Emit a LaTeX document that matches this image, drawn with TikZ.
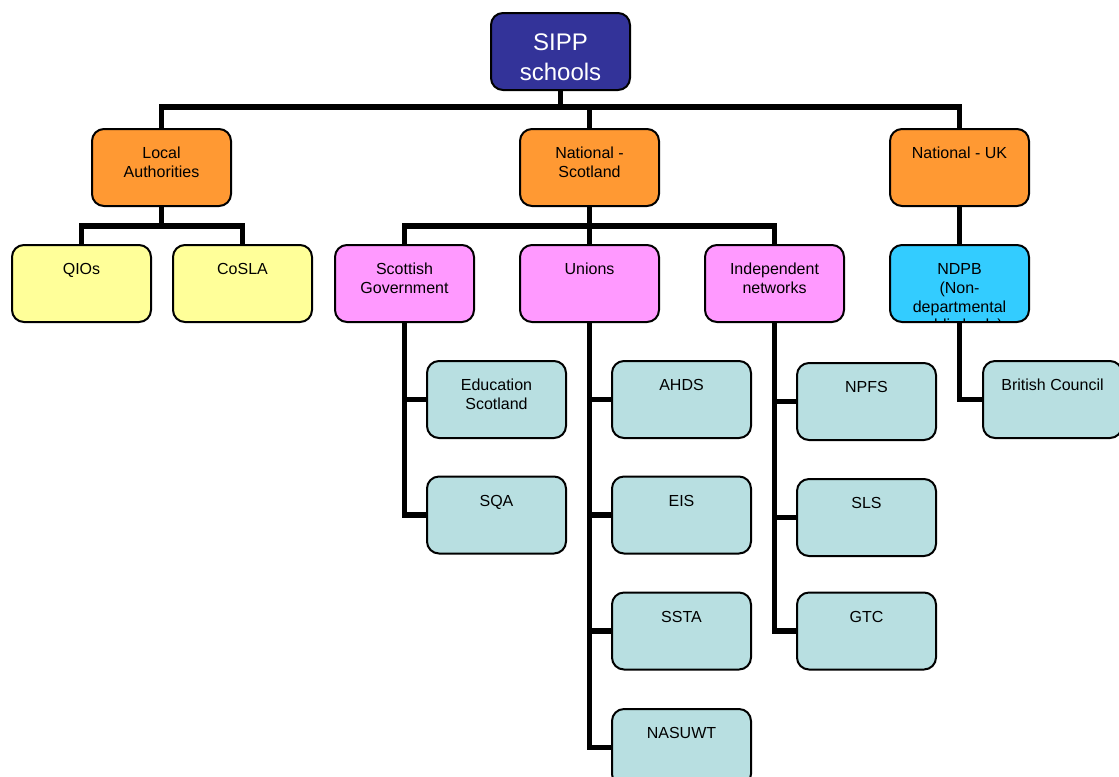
\documentclass[tikz,border=0pt]{standalone}
\usepackage{fontspec}
\setmainfont{Liberation Sans}
\usetikzlibrary{backgrounds}
\definecolor{navy}{HTML}{333399}
\definecolor{orangebox}{HTML}{FF9933}
\definecolor{yellowbox}{HTML}{FFFF99}
\definecolor{pinkbox}{HTML}{FF99FF}
\definecolor{cyanbox}{HTML}{33CCFF}
\definecolor{tealbox}{HTML}{B8DFE1}
\begin{document}
\begin{tikzpicture}[x=0.75pt,y=-0.75pt,
  box/.style={draw=black, line width=1.5pt, rounded corners=9pt,
    minimum width=104.25pt, minimum height=57.75pt, inner sep=0pt},
  lbl/.style={anchor=north, yshift=-14.3pt, inner sep=0pt, align=center,
    font=\fontsize{12}{13.8}\selectfont},
  biglbl/.style={anchor=north, yshift=-16.3pt, inner sep=0pt, align=center,
    text=white, font=\fontsize{18}{22.5}\selectfont},
  conn/.style={line width=4pt, line join=miter, line cap=rect}]
\useasboundingbox (0,0) rectangle (1119,776);
\clip (0,0) rectangle (1119,776);
\coordinate (busA) at (0,107);
\coordinate (busB) at (0,226);
\node[box, fill=navy, label={[biglbl]north:SIPP\\schools}] (sipp) at (560.5,51.5) {};
\node[box, fill=orangebox, label={[lbl]north:Local\\Authorities}] (la) at (161.5,167.5) {};
\node[box, fill=orangebox, label={[lbl]north:National -\\Scotland}] (ns) at (589.5,167.5) {};
\node[box, fill=orangebox, label={[lbl]north:National - UK}] (uk) at (959.5,167.5) {};
\node[box, fill=yellowbox, label={[lbl]north:QIOs}] (qio) at (81.5,283.5) {};
\node[box, fill=yellowbox, label={[lbl]north:CoSLA}] (cosla) at (242.5,283.5) {};
\node[box, fill=pinkbox, label={[lbl]north:Scottish\\Government}] (sg) at (404.5,283.5) {};
\node[box, fill=pinkbox, label={[lbl]north:Unions}] (un) at (589.5,283.5) {};
\node[box, fill=pinkbox, label={[lbl]north:Independent\\networks}] (ind) at (774.5,283.5) {};
\node[box, fill=cyanbox, path picture={\node[lbl, yshift=3.5pt, font=\fontsize{12}{13.9}\selectfont] (ndpbtxt) at (path picture bounding box.north) {NDPB\\(Non-\\departmental\\public body)};}] (ndpb) at (959.5,283.5) {};
\node[box, fill=tealbox, label={[lbl]north:Education\\Scotland}] (es) at (496.5,399.5) {};
\node[box, fill=tealbox, label={[lbl]north:SQA}] (sqa) at (496.5,515) {};
\node[box, fill=tealbox, label={[lbl]north:AHDS}] (ahds) at (681.5,399.5) {};
\node[box, fill=tealbox, label={[lbl]north:EIS}] (eis) at (681.5,515) {};
\node[box, fill=tealbox, label={[lbl]north:SSTA}] (ssta) at (681.5,631) {};
\node[box, fill=tealbox, label={[lbl]north:NASUWT}] (nas) at (681.5,747.5) {};
\node[box, fill=tealbox, label={[lbl]north:NPFS}] (npfs) at (866.5,401.5) {};
\node[box, fill=tealbox, label={[lbl]north:SLS}] (sls) at (866.5,517.5) {};
\node[box, fill=tealbox, label={[lbl]north:GTC}] (gtc) at (866.5,631) {};
\node[box, fill=tealbox, label={[lbl]north:British Council}] (bc) at (1052.5,399.5) {};
\begin{scope}[on background layer]
\draw[conn] (sipp.south) -- (sipp.south |- busA);
\draw[conn] (la.north) -- (la.north |- busA) -- (uk.north |- busA) -- (uk.north);
\draw[conn] (ns.north) -- (ns.north |- busA);
\draw[conn] (la.south) -- (la.south |- busB);
\draw[conn] (qio.north) -- (qio.north |- busB) -- (cosla.north |- busB) -- (cosla.north);
\draw[conn] (ns.south) -- (ns.south |- busB);
\draw[conn] (sg.north) -- (sg.north |- busB) -- (ind.north |- busB) -- (ind.north);
\draw[conn] (un.north) -- (un.north |- busB);
\draw[conn] (uk.south) -- (ndpb.north);
\draw[conn] (sg.south) |- (sqa.west);
\draw[conn] (sg.south |- es.west) -- (es.west);
\draw[conn] (un.south) |- (nas.west);
\draw[conn] (un.south |- ahds.west) -- (ahds.west);
\draw[conn] (un.south |- eis.west) -- (eis.west);
\draw[conn] (un.south |- ssta.west) -- (ssta.west);
\draw[conn] (ind.south) |- (gtc.west);
\draw[conn] (ind.south |- npfs.west) -- (npfs.west);
\draw[conn] (ind.south |- sls.west) -- (sls.west);
\draw[conn] (ndpb.south) |- (bc.west);
\end{scope}
\end{tikzpicture}
\end{document}
